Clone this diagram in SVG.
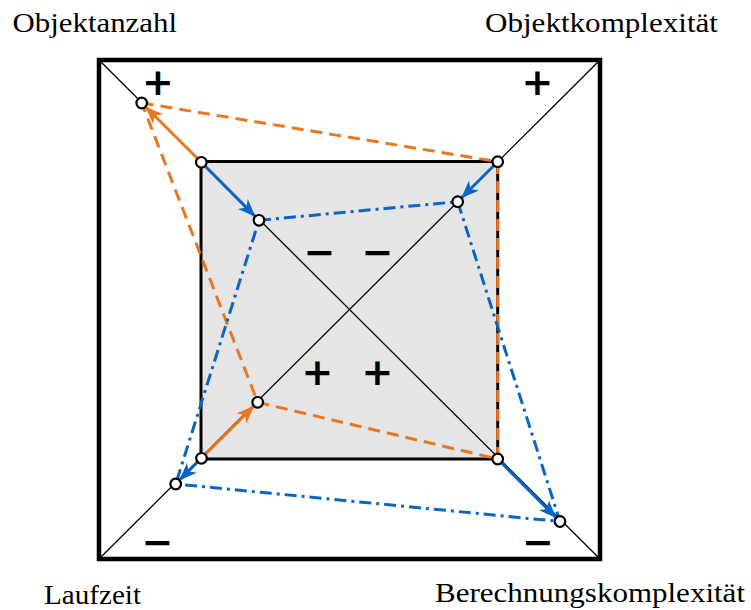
<svg xmlns="http://www.w3.org/2000/svg" width="751" height="610" viewBox="0 0 751 610">
<defs>
<style>
.lbl{font-family:"Liberation Serif","DejaVu Serif",serif;font-size:28px;fill:#000}
.sgn{font-family:"DejaVu Sans","Liberation Sans",sans-serif;font-weight:bold;font-size:38px;fill:#000;text-anchor:middle}
.diag{stroke:#000;stroke-width:1.3;fill:none}
.od{stroke:#e87722;stroke-width:3;fill:none;stroke-dasharray:12 7}
.bd{stroke:#0a66c2;stroke-width:3;fill:none;stroke-dasharray:12 5 3 5}
.oa{stroke:#e87722;stroke-width:3;fill:none;marker-end:url(#ao)}
.ba{stroke:#0a66c2;stroke-width:3;fill:none;marker-end:url(#ab)}
.nd{fill:#fff;stroke:#000;stroke-width:2.2}
</style>
<marker id="ao" markerUnits="userSpaceOnUse" viewBox="0 0 18 14" markerWidth="18" markerHeight="14" refX="17" refY="7" orient="auto"><path d="M0,0 L18,7 L0,14 L5,7 Z" fill="#e87722"/></marker>
<marker id="ab" markerUnits="userSpaceOnUse" viewBox="0 0 18 14" markerWidth="18" markerHeight="14" refX="17" refY="7" orient="auto"><path d="M0,0 L18,7 L0,14 L5,7 Z" fill="#0a66c2"/></marker>
</defs>
<rect width="751" height="610" fill="#fff"/>
<g id="frame">
<rect x="99" y="60" width="501" height="499" fill="#fff" stroke="#000" stroke-width="4.5"/>
<rect x="201" y="161.5" width="296.7" height="297.5" fill="#e5e5e5" stroke="#000" stroke-width="3"/>
<line class="diag" x1="99" y1="60" x2="600" y2="559"/>
<line class="diag" x1="600" y1="60" x2="99" y2="559"/>
</g>
<g id="connectors">
<polygon class="od" points="141.7,103 497.7,161.7 497.7,459 257.7,402.3"/>
<polygon class="bd" points="259,220.3 457.7,201.7 560,521.5 175.7,484"/>
<line class="oa" x1="201.3" y1="162.3" x2="146" y2="107.2"/>
<line class="oa" x1="201.5" y1="458.3" x2="253.5" y2="406.5"/>
<line class="ba" x1="201.3" y1="162.3" x2="254.8" y2="216.1"/>
<line class="ba" x1="497.7" y1="161.7" x2="461.9" y2="197.5"/>
<line class="ba" x1="497.7" y1="459" x2="555.8" y2="517.3"/>
<line class="ba" x1="201.5" y1="458.3" x2="179.9" y2="479.8"/>
</g>
<g id="nodes">
<circle id="nA" class="nd" cx="141.7" cy="103" r="5.3"/>
<circle id="nB" class="nd" cx="201.3" cy="162.3" r="5.3"/>
<circle id="nC" class="nd" cx="259" cy="220.3" r="5.3"/>
<circle id="nD" class="nd" cx="497.7" cy="161.7" r="5.3"/>
<circle id="nE" class="nd" cx="457.7" cy="201.7" r="5.3"/>
<circle id="nF" class="nd" cx="201.5" cy="458.3" r="5.3"/>
<circle id="nG" class="nd" cx="257.7" cy="402.3" r="5.3"/>
<circle id="nH" class="nd" cx="175.7" cy="484" r="5.3"/>
<circle id="nI" class="nd" cx="497.7" cy="459" r="5.3"/>
<circle id="nJ" class="nd" cx="560" cy="521.5" r="5.3"/>
</g>
<g id="signs">
<text class="sgn" x="158" y="95">+</text>
<text class="sgn" x="537.5" y="95">+</text>
<text class="sgn" x="157.5" y="555">−</text>
<text class="sgn" x="538" y="555">−</text>
<text class="sgn" x="319.5" y="265">−</text>
<text class="sgn" x="377.5" y="265">−</text>
<text class="sgn" x="317.5" y="385">+</text>
<text class="sgn" x="377.5" y="385">+</text>
</g>
<g id="labels">
<text class="lbl" x="12.5" y="31.5" textLength="164.5" lengthAdjust="spacingAndGlyphs">Objektanzahl</text>
<text class="lbl" x="485" y="31.5" textLength="233" lengthAdjust="spacingAndGlyphs">Objektkomplexität</text>
<text class="lbl" x="44" y="604" style="font-size:27px" textLength="97" lengthAdjust="spacingAndGlyphs">Laufzeit</text>
<text class="lbl" x="435" y="602" style="font-size:27px" textLength="310" lengthAdjust="spacingAndGlyphs">Berechnungskomplexität</text>
</g>
</svg>
